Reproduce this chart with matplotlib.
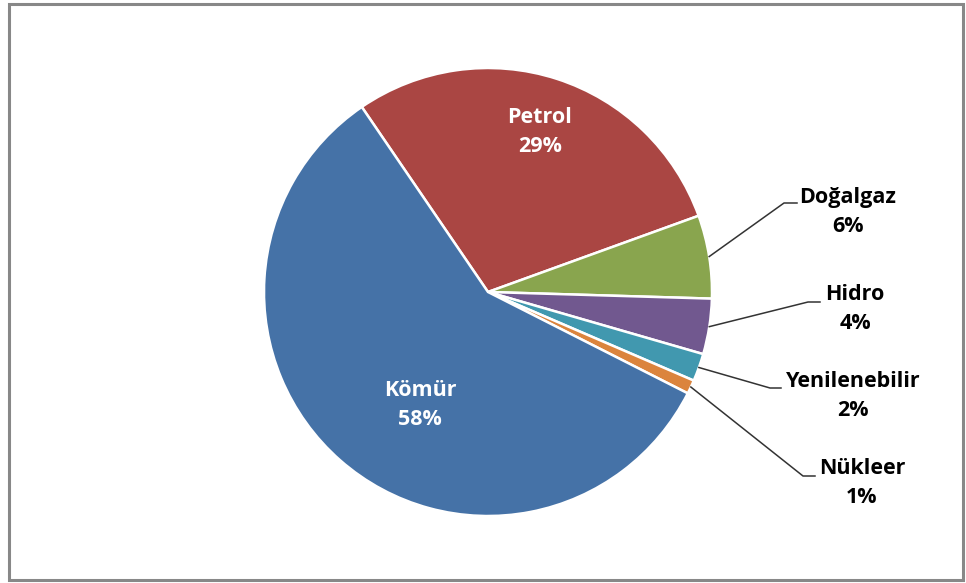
import matplotlib.pyplot as plt
from matplotlib.patches import Rectangle
import numpy as np

# data, in clockwise order starting from the top-left boundary
labels = ["Petrol", "Doğalgaz", "Hidro", "Yenilenebilir", "Nükleer", "Kömür"]
shares = [29, 6, 4, 2, 1, 58]
colors = ["#AA4643", "#89A54E", "#71588F", "#4198AF", "#DB843D", "#4572A7"]

W, H = 966, 583
cx, cy, r = 488, H - 292, 224

fig = plt.figure(figsize=(W / 100, H / 100), dpi=100)
ax = fig.add_axes([0, 0, 1, 1])

wedges, _ = ax.pie(shares, colors=colors, startangle=124.3, counterclock=False,
                   center=(cx, cy), radius=r, frame=True,
                   wedgeprops=dict(edgecolor="white", linewidth=1.8))
ax.set_xlim(0, W)
ax.set_ylim(0, H)
ax.set_aspect("equal")
ax.set_axis_off()

font = dict(family=["Open Sans", "DejaVu Sans"], fontweight="bold", fontsize=15.5)

# label centres and leader elbows, pixel coords measured from the top
inside = {"Petrol": (540, 132), "Kömür": (420, 405)}
outside = {
    "Doğalgaz": ((848, 212), (784, 203), (797, 203)),
    "Hidro": ((855, 309), (808, 302), (820, 302)),
    "Yenilenebilir": ((853, 396), (770, 388), (781, 388)),
    "Nükleer": ((862, 483), (803, 476), (815, 476)),
}

for w, lab, val in zip(wedges, labels, shares):
    mid = np.deg2rad((w.theta1 + w.theta2) / 2)
    txt = f"{lab}\n{val}%"
    if lab in inside:
        tx, ty = inside[lab]
        ax.text(tx, H - ty, txt, color="white", ha="center", va="center",
                linespacing=1.45, **font)
    else:
        (tx, ty), (ex, ey), (hx, hy) = outside[lab]
        sx, sy = cx + r * np.cos(mid), cy + r * np.sin(mid)
        ax.plot([sx, ex, hx], [sy, H - ey, H - hy], color="#333333", lw=1.1)
        ax.text(tx, H - ty, txt, color="black", ha="center", va="center",
                linespacing=1.45, **font)

# chart frame
ax.add_patch(Rectangle((8.5, 3.5), 954, 576, fill=False, edgecolor="#888888",
                       linewidth=2.2, clip_on=False))

fig.savefig("out.png", dpi=100)
